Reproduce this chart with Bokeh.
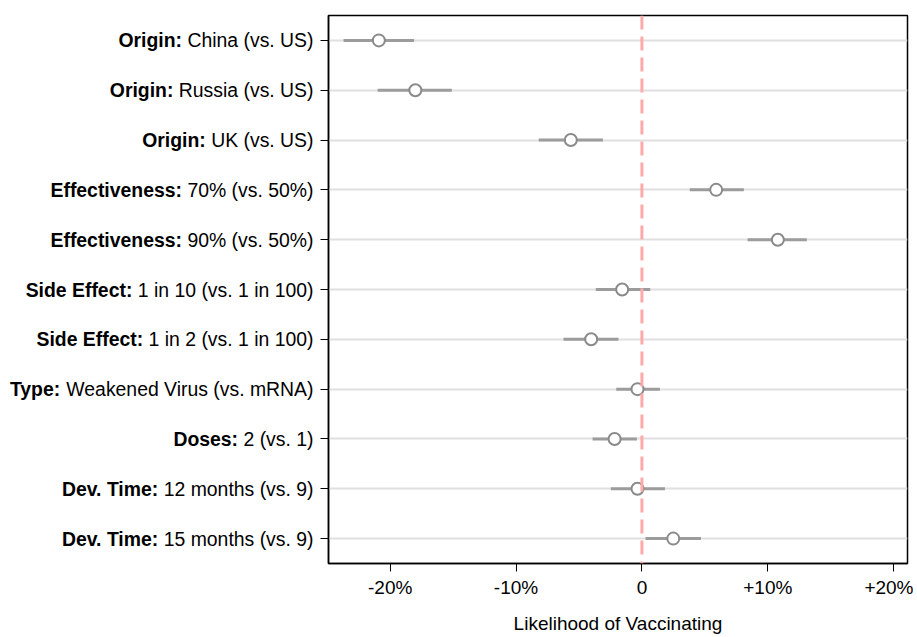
from bokeh.plotting import figure
from bokeh.layouts import row
from bokeh.models import Range1d, FixedTicker, Span, ColumnDataSource
from bokeh.core.properties import value
from bokeh.embed import file_html
from bokeh.resources import INLINE

# ---- data ----
bold_parts = ["Origin:", "Origin:", "Origin:", "Effectiveness:", "Effectiveness:",
              "Side Effect:", "Side Effect:", "Type:", "Doses:", "Dev. Time:", "Dev. Time:"]
regular_parts = ["China (vs. US)", "Russia (vs. US)", "UK (vs. US)", "70% (vs. 50%)",
                 "90% (vs. 50%)", "1 in 10 (vs. 1 in 100)", "1 in 2 (vs. 1 in 100)",
                 "Weakened Virus (vs. mRNA)", "2 (vs. 1)", "12 months (vs. 9)",
                 "15 months (vs. 9)"]
estimate = [-20.9, -18.0, -5.65, 5.9, 10.8, -1.57, -4.03, -0.35, -2.17, -0.35, 2.49]
ci_low = [-23.7, -21.0, -8.2, 3.8, 8.4, -3.66, -6.23, -2.04, -3.92, -2.47, 0.29]
ci_high = [-18.1, -15.1, -3.1, 8.1, 13.1, 0.66, -1.86, 1.43, -0.4, 1.83, 4.69]
x_ticks = [-20, -10, 0, 10, 20]
x_tick_labels = ["-20%", "-10%", "0", "+10%", "+20%"]
rows = list(range(1, len(estimate) + 1))

FONT = "Liberation Sans"
FS = 19
LFS = 19.4

# Arial / Liberation Sans regular advance widths (per 1000 em)
W = {' ': 278, '(': 333, ')': 333, '.': 278, '%': 889, ':': 278, '-': 333,
     'A': 667, 'C': 722, 'K': 667, 'N': 722, 'R': 722, 'S': 667, 'U': 722, 'V': 667, 'W': 944,
     'a': 556, 'c': 500, 'd': 556, 'e': 556, 'h': 556, 'i': 222, 'k': 500, 'm': 833,
     'n': 556, 'o': 556, 'r': 333, 's': 500, 't': 278, 'u': 556, 'v': 500}
for dgt in "0123456789":
    W[dgt] = 556


def text_width(s, size):
    return sum(W.get(ch, 556) for ch in s) * size / 1000.0


HEIGHT = 637
TOP = 15
BOTTOM = 74
LEFT_W = 314
MAIN_W = 599
MAIN_BL = 14

x_start, x_end = -24.9, 21.1
y_range = Range1d(len(rows) + 0.5, 0.5)

# ---- main plot ----
p = figure(width=MAIN_W, height=HEIGHT, output_backend="svg", toolbar_location=None,
           x_range=Range1d(x_start, x_end), y_range=y_range,
           min_border_left=MAIN_BL, min_border_right=6, min_border_top=TOP,
           min_border_bottom=BOTTOM)

p.outline_line_color = "black"
p.outline_line_width = 1.5

p.xaxis.ticker = FixedTicker(ticks=x_ticks)
p.xaxis.major_label_overrides = {t: l for t, l in zip(x_ticks, x_tick_labels)}
p.xaxis.axis_label = "Likelihood of Vaccinating"
p.xaxis.axis_label_text_font = FONT
p.xaxis.axis_label_text_font_size = f"{FS}px"
p.xaxis.axis_label_text_font_style = "normal"
p.xaxis.axis_label_text_color = "black"
p.xaxis.axis_label_standoff = 12
p.xaxis.major_label_text_font = FONT
p.xaxis.major_label_text_font_size = f"{FS}px"
p.xaxis.major_label_text_color = "black"
p.xaxis.major_label_standoff = 5

p.yaxis.ticker = FixedTicker(ticks=rows)
p.yaxis.major_label_overrides = {r: "" for r in rows}
p.yaxis.major_label_standoff = 0

for ax in (p.xaxis[0], p.yaxis[0]):
    ax.axis_line_color = "black"
    ax.axis_line_width = 1.5
    ax.major_tick_out = 8
    ax.major_tick_in = 0
    ax.major_tick_line_color = "black"
    ax.major_tick_line_width = 1
    ax.minor_tick_out = 0
    ax.minor_tick_in = 0

p.xgrid.visible = False
p.ygrid.grid_line_color = "#e0e0e0"
p.ygrid.grid_line_width = 2

p.add_layout(Span(location=0, dimension="height", line_color="#ffaaaa",
                  line_width=3, line_dash="14 7"))

src = ColumnDataSource(dict(y=rows, est=estimate, lo=ci_low, hi=ci_high))
p.segment(x0="lo", y0="y", x1="hi", y1="y", source=src, line_color="#9c9c9c", line_width=3)
p.scatter(x="est", y="y", source=src, size=12, marker="circle",
          fill_color="white", line_color="#8a8a8a", line_width=2)

# ---- label panel (bold prefix + regular text) ----
lp = figure(width=LEFT_W, height=HEIGHT, output_backend="svg", toolbar_location=None,
            x_range=Range1d(0, LEFT_W), y_range=y_range,
            min_border_left=0, min_border_right=0, min_border_top=TOP,
            min_border_bottom=BOTTOM)
lp.axis.visible = False
lp.grid.visible = False
lp.outline_line_color = None

text_right = LEFT_W - 1
reg_off = [0.0] * len(rows)
bold_off = [-text_width(" " + t, LFS) for t in regular_parts]
lsrc = ColumnDataSource(dict(y=rows, x=[text_right] * len(rows), reg=regular_parts,
                             bold=bold_parts, reg_off=reg_off, bold_off=bold_off))
lp.text(x="x", y="y", text="reg", x_offset="reg_off", source=lsrc, text_align="right",
        text_baseline="middle", text_font=value(FONT), text_font_size=value(f"{LFS}px"),
        text_color="black")
lp.text(x="x", y="y", text="bold", x_offset="bold_off", source=lsrc, text_align="right",
        text_baseline="middle", text_font=value(FONT), text_font_size=value(f"{LFS}px"),
        text_font_style="bold", text_color="black")

layout = row(lp, p)
open("out.html", "w").write(file_html(layout, INLINE))
